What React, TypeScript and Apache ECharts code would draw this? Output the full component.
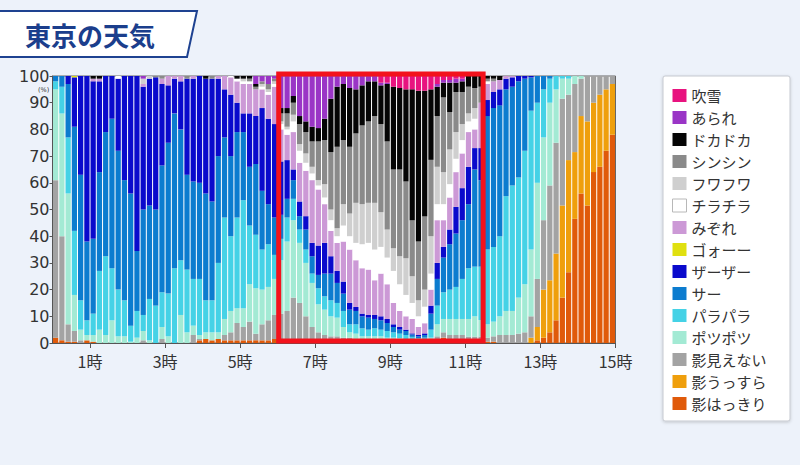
import React, { useEffect, useRef } from "react";
import * as echarts from "echarts";

// 10-minute slots from 0:00 to 14:50
const timeSlots: string[] = Array.from({ length: 90 }, (_, i) => `${Math.floor(i / 6)}:${String((i % 6) * 10).padStart(2, "0")}`);
const hourTicks = [1, 3, 5, 7, 9, 11, 13, 15];
const highlightHours = [6, 11.5];

// values in % per 10-minute slot (bars 0..89)
const kageHakkiri = [
  2, 1, 0.5, 0.5, 0, 1, 0.5, 0, 0, 0,
  0, 0, 0, 0, 0, 0, 0, 0, 0, 0,
  0, 0, 0, 1, 1.5, 1, 1.5, 1, 1, 1,
  1, 1, 1, 1, 1, 1.5, 1, 1, 1, 1,
  1, 1, 1, 1, 1, 1, 1, 1, 1, 1,
  1, 1, 1, 1, 1, 1, 1, 0.5, 0.5, 0.5,
  0.5, 1, 2, 1.5, 1.5, 1.5, 1, 1, 1, 0.5,
  0.5, 0, 0, 0, 0, 0, 0, 1, 2, 4,
  8.5, 17, 26.5, 46.5, 56, 51.5, 64, 66, 72, 78,
];
const kageUssura = [
  0, 0, 0, 0, 0, 0, 0, 0, 0, 0,
  0, 0, 0, 0, 0, 0, 0, 0, 0, 0,
  0, 0, 0, 0, 0, 0, 0, 0, 0, 0,
  0, 0, 0, 0, 0, 0, 0, 0, 0, 0,
  0, 0, 0, 0, 0, 0, 0, 0, 0, 0,
  0, 0, 0, 0, 0, 0, 0, 0, 0, 0,
  0, 0, 0, 0, 0, 0, 0, 0, 0, 0,
  0, 0, 0, 0, 0, 0, 2, 5, 18, 19.5,
  25, 34.5, 42, 25, 29, 31.5, 26, 27, 23, 19,
];
const kageMienai = [
  59, 39, 6.5, 4, 1, 0, 0, 0, 0, 0,
  0, 0, 0, 0, 1, 0, 0, 1.5, 0, 0,
  0, 0, 3, 0.5, 0, 0, 0, 2, 3, 6.5,
  5, 7, 2.5, 6, 7.5, 9, 10, 11, 16, 14,
  9, 5, 3, 2, 1.5, 1.5, 1, 1, 0.5, 0,
  0, 0, 0, 0, 0, 0, 0, 0, 0, 0,
  0.5, 1.5, 2, 1.5, 1.5, 1.5, 1.4, 1.4, 1.4, 1.5,
  2, 3, 3, 3, 3.5, 4, 8, 18, 26, 35.5,
  41.5, 40, 24.5, 25.5, 14, 17, 10, 7, 5, 3,
];
const potsupotsu = [
  34, 46, 49, 13.5, 4, 2, 2.5, 5, 3, 8.5,
  2.5, 2.5, 0.5, 2, 3.5, 1, 0, 4.5, 2.5, 0,
  10.5, 4, 3.5, 1.5, 2.5, 3, 2.5, 6, 8, 5.5,
  7, 14, 17, 13, 12.5, 13.5, 20, 26, 29, 22.5,
  20, 16.5, 10.5, 9.5, 7.5, 7, 4, 2, 2, 1.5,
  1.5, 1.5, 1.5, 1, 1, 0.8, 0.5, 0.7, 0.5, 0.7,
  1, 4.5, 5, 6, 6, 6, 6.6, 7.6, 6.2, 5,
  5.5, 7, 9, 9, 13.5, 18, 25, 36, 31, 31,
  20, 7.5, 6, 3, 1, 0, 0, 0, 0, 0,
];
const parapara = [
  3, 10, 21, 24, 11, 5.5, 8, 22, 29.5, 19.5,
  17.5, 13.5, 6, 10, 6, 15.5, 14, 13, 16, 28,
  20.5, 23.5, 17.5, 21, 12, 12, 26, 38, 28, 34,
  40.5, 22, 20, 15, 16, 9, 8, 9, 8, 5,
  5, 3.5, 6, 5, 6, 5.5, 6, 3, 3.5, 3,
  2.5, 3, 2.5, 2.5, 2, 1.7, 1.5, 1.1, 0.8, 0.8,
  3, 7, 10, 11, 12, 15, 19, 18.6, 20, 28,
  28, 30, 43, 47, 45, 50, 52, 30, 18, 9,
  5, 1, 1, 0, 0, 0, 0, 0, 0, 0,
];
const saa = [
  2, 4, 20, 39, 47, 29.5, 28, 37, 46.5, 56,
  52, 45, 49.5, 22.5, 39.5, 35, 36, 47.5, 56.5, 58,
  49, 35.5, 36.5, 36, 40, 37, 40, 30, 30, 32,
  25.5, 22, 26.5, 22, 15, 14, 9, 7, 7, 5,
  7.5, 6.5, 5, 8.5, 10, 7.5, 6.5, 5.5, 5, 4.5,
  4.5, 3.5, 3.5, 3, 2, 1.5, 1.5, 0.9, 0.7, 1,
  6, 10, 13, 17, 20, 22, 24, 36.4, 32.4, 50,
  52, 49, 40, 37, 36, 27, 12.5, 10, 5, 1,
  0, 0, 0, 0, 0, 0, 0, 0, 0, 0,
];
const zaazaa = [
  0, 0, 3, 18.5, 37, 62, 59, 34, 21, 16,
  27, 39, 44, 65.5, 46, 47.5, 49.5, 30.5, 21.5, 13,
  18, 36, 38.5, 40, 43, 46, 29, 18, 23, 11,
  7, 20, 18, 31, 32, 35, 20, 14.5, 4, 5.5,
  5, 5, 11, 11.5, 6.5, 4.5, 4.5, 2.5, 1.5, 1,
  1, 1.5, 1.5, 1.5, 1, 1, 0.5, 0.4, 0.5, 0.6,
  3, 6, 4, 5.5, 10, 12, 14, 8, 12, 6,
  6, 6, 4, 3.5, 2, 1, 0.5, 0, 0, 0,
  0, 0, 0, 0, 0, 0, 0, 0, 0, 0,
];
const goo = [
  0, 0, 0, 0.5, 0, 0, 0, 0, 0, 0,
  0, 0, 0, 0, 0, 0, 0, 0, 0, 0,
  0, 0, 0, 0, 0, 0, 0, 0, 0, 0,
  0, 0, 0, 0, 0, 0, 0, 0, 0, 0,
  0, 0, 0, 0, 0, 0, 0, 0, 0, 0,
  0, 0, 0, 0, 0, 0, 0, 0, 0, 0,
  0, 0, 0, 0, 0, 0, 0, 0, 0, 0,
  0, 0, 0, 0, 0, 0, 0, 0, 0, 0,
  0, 0, 0, 0, 0, 0, 0, 0, 0, 0,
];
const mizore = [
  0, 0, 0, 0, 0, 0, 1, 1, 0, 0,
  0, 0, 0, 0, 1, 0, 0, 2, 3.5, 1,
  2, 0, 1, 0, 0, 0, 1, 5, 6.5, 8,
  11, 11, 10, 7, 9, 14, 12, 9.5, 14, 14.5,
  17, 23.5, 21, 14.5, 9.5, 10.5, 15, 20, 17.5, 17,
  17, 13, 16, 13, 8, 6, 5, 5.4, 3, 3.8,
  6, 16, 10, 12, 13, 13, 13, 7, 17, 6,
  4, 3.5, 1, 0.5, 0, 0, 0, 0, 0, 0,
  0, 0, 0, 0, 0, 0, 0, 0, 0, 0,
];
const chirachira = [
  0, 0, 0, 0, 0, 0, 0, 0, 0, 0,
  1, 0, 0, 0, 0, 0, 0, 0, 0, 0,
  0, 0, 0, 0, 0, 0, 0, 0, 0.5, 1,
  1, 1, 0, 1, 1, 1, 2, 2, 4, 4.5,
  3, 2.5, 1.5, 2.5, 4, 2.5, 6, 5, 6.5, 9,
  10, 11.5, 10, 10, 12, 10, 8, 6, 4, 6.2,
  6, 6, 6, 5, 5, 5, 4, 4, 0, 1,
  0, 0, 0, 0, 0, 0, 0, 0, 0, 0,
  0, 0, 0, 0, 0, 0, 0, 0, 0, 0,
];
const fuwafuwa = [
  0, 0, 0, 0, 0, 0, 0, 0, 0, 0,
  0, 0, 0, 0, 2, 1, 0, 0, 0, 0,
  0, 0, 0, 0, 0, 0, 0, 0, 0, 0,
  1, 0, 0, 1, 1, 1, 1, 1, 2.5, 2.5,
  3.5, 2.5, 2, 5, 4, 3, 8, 8.5, 15, 15,
  15, 17.5, 13, 10.5, 8.5, 10.5, 13.75, 10, 6, 6.4,
  14, 14, 12, 13, 10, 6, 3, 4, 0, 0,
  0, 0, 0, 0, 0, 0, 0, 0, 0, 0,
  0, 0, 0, 0, 0, 0, 0, 0, 0, 0,
];
const shinshin = [
  0, 0, 0, 0, 0, 0, 0, 0, 0, 0,
  0, 0, 0, 0, 0, 0, 0.5, 1, 0, 0,
  0, 1, 0, 0, 0, 1, 0, 0, 0, 0,
  0, 1, 1, 1, 2, 1, 3, 5, 4.5, 7.5,
  8, 9.5, 14.5, 16.5, 21.5, 30.5, 24, 25, 26, 29.5,
  30.5, 32.5, 33, 33, 29.5, 32.5, 28.75, 21, 22, 27.4,
  28.6, 19, 28, 14, 15, 12, 10, 7.5, 6, 1,
  1, 0, 0, 0, 0, 0, 0, 0, 0, 0,
  0, 0, 0, 0, 0, 0, 0, 0, 0, 0,
];
const dokadoka = [
  0, 0, 0, 0, 0, 0, 1, 1, 0, 0,
  0, 0, 0, 0, 0, 0, 0, 0, 0, 0,
  0, 0, 0, 0, 1, 0, 0, 0, 0, 1,
  1, 1, 1, 0, 0, 0, 2, 2, 2.5, 3,
  4, 5.5, 5, 8, 20, 22.5, 21, 22, 16.5, 15,
  15, 13, 14.5, 21.5, 31, 30.5, 34.5, 49, 56.5, 47.1,
  26.4, 11, 5.5, 11, 3.5, 4, 4, 4.5, 4, 1,
  1, 1.5, 0, 0, 0, 0, 0, 0, 0, 0,
  0, 0, 0, 0, 0, 0, 0, 0, 0, 0,
];
const arare = [
  0, 0, 0, 0, 0, 0, 0, 0, 0, 0,
  0, 0, 0, 0, 1, 0, 0, 0, 0, 0,
  0, 0, 0, 0, 0, 0, 0, 0, 0, 0,
  0, 0, 3, 2, 3, 1, 12, 12, 7.5, 15,
  17, 19, 19.5, 16, 8.5, 4, 3, 4.5, 5, 3.5,
  2, 2, 1, 0.5, 0, 0, 0, 0, 0, 0,
  0, 1, 1, 1, 1.5, 1, 0, 0, 0, 0,
  0, 0, 0, 0, 0, 0, 0, 0, 0, 0,
  0, 0, 0, 0, 0, 0, 0, 0, 0, 0,
];
const fubuki = [
  0, 0, 0, 0, 0, 0, 0, 0, 0, 0,
  0, 0, 0, 0, 0, 0, 0, 0, 0, 0,
  0, 0, 0, 0, 0, 0, 0, 0, 0, 0,
  0, 0, 0, 0, 0, 0, 0, 0, 0, 0,
  0, 0, 0, 0, 0, 0, 0, 0, 0, 0,
  0, 0, 2.5, 2.5, 4, 4.5, 5, 5, 5.5, 5.5,
  5, 3, 1.5, 1.5, 1, 1, 0, 0, 0, 0,
  0, 0, 0, 0, 0, 0, 0, 0, 0, 0,
  0, 0, 0, 0, 0, 0, 0, 0, 0, 0,
];

// stacking order: bottom -> top
const seriesDefs = [
  { name: "影はっきり", color: "#e05a0a", data: kageHakkiri },
  { name: "影うっすら", color: "#ef9f0c", data: kageUssura },
  { name: "影見えない", color: "#a3a3a3", data: kageMienai },
  { name: "ポツポツ", color: "#a3ead4", data: potsupotsu },
  { name: "パラパラ", color: "#45d2e6", data: parapara },
  { name: "サー", color: "#0c7ccf", data: saa },
  { name: "ザーザー", color: "#0a0acc", data: zaazaa },
  { name: "ゴォーー", color: "#e0e010", data: goo },
  { name: "みぞれ", color: "#cc99d6", data: mizore },
  { name: "チラチラ", color: "#ffffff", data: chirachira },
  { name: "フワフワ", color: "#cfcfcf", data: fuwafuwa },
  { name: "シンシン", color: "#8a8a8a", data: shinshin },
  { name: "ドカドカ", color: "#050505", data: dokadoka },
  { name: "あられ", color: "#9a35c6", data: arare },
  { name: "吹雪", color: "#e8137f", data: fubuki },
];

const FONT = '"Noto Sans CJK JP", "Noto Sans", sans-serif';

export default function App() {
  const ref = useRef<HTMLDivElement>(null);
  useEffect(() => {
    if (!ref.current) return;
    const chart = echarts.init(ref.current, undefined, { renderer: "svg" });
    const legendNames = seriesDefs.map((s) => s.name).reverse();
    const option: any = {
      animation: false,
      backgroundColor: "#edf2fa",
      textStyle: { fontFamily: FONT },
      grid: {
        left: 52.5, top: 76, width: 563, height: 267,
        show: true, backgroundColor: "#ffffff", borderColor: "#666", borderWidth: 1,
      },
      legend: {
        orient: "vertical",
        left: 672, top: 88,
        padding: 0,
        itemWidth: 14, itemHeight: 13, itemGap: 7,
        icon: "rect",
        selectedMode: false,
        textStyle: { fontSize: 15, color: "#333", fontFamily: FONT },
        data: legendNames.map((n) =>
          n === "チラチラ"
            ? { name: n, itemStyle: { color: "#fff", borderColor: "#b8b8b8", borderWidth: 1 } }
            : { name: n }
        ),
      },
      xAxis: [
        {
          type: "category", data: timeSlots, show: false, gridIndex: 0,
        },
        {
          type: "value", min: 0, max: 15, gridIndex: 0, position: "bottom",
          axisLine: { show: true, lineStyle: { color: "#555", width: 1 } },
          axisTick: { show: true, customValues: hourTicks, length: 5, lineStyle: { color: "#555" } },
          axisLabel: {
            customValues: hourTicks, formatter: (v: number) => `${v}時`,
            fontSize: 16, color: "#333", margin: 10, fontFamily: FONT,
          },
          splitLine: { show: false },
        },
      ],
      yAxis: {
        type: "value", min: 0, max: 100, interval: 10,
        axisLine: { show: true, lineStyle: { color: "#555" } },
        axisTick: { show: true, length: 3, lineStyle: { color: "#555" } },
        axisLabel: {
          fontSize: 16, color: "#333", margin: 3,
          fontFamily: '"DejaVu Sans", sans-serif',
        },
        splitLine: { show: false },
      },
      series: seriesDefs.map((s) => ({
        name: s.name,
        type: "bar",
        stack: "weather",
        xAxisIndex: 0,
        yAxisIndex: 0,
        barCategoryGap: "16%",
        silent: true,
        itemStyle: { color: s.color },
        emphasis: { disabled: true },
        data: s.data,
      })),
    };
    chart.setOption(option);

    const x0 = chart.convertToPixel({ xAxisIndex: 1 }, highlightHours[0]) as number;
    const x1 = chart.convertToPixel({ xAxisIndex: 1 }, highlightHours[1]) as number;
    const yTop = chart.convertToPixel({ yAxisIndex: 0 }, 100) as number;
    const yBottom = chart.convertToPixel({ yAxisIndex: 0 }, 0) as number;

    chart.setOption({
      graphic: [
        {
          type: "polygon", z: 20,
          shape: { points: [[-4, 11], [197, 11], [187, 57], [-4, 57]] },
          style: { fill: "#ffffff", stroke: "#1e4291", lineWidth: 2 },
        },
        {
          type: "text", z: 21, x: 25, y: 34,
          style: {
            text: "東京の天気", fill: "#1b3e8c", font: `bold 26px ${FONT}`,
            verticalAlign: "middle", align: "left",
          },
        },
        {
          type: "rect", z: 1,
          shape: { x: 663, y: 76, width: 127, height: 345, r: 2 },
          style: {
            fill: "#ffffff", stroke: "#c5c9d0", lineWidth: 1,
            shadowBlur: 3, shadowColor: "rgba(0,0,0,0.18)", shadowOffsetY: 1,
          },
        },
        {
          type: "text", z: 20, x: 38, y: 86,
          style: {
            text: "(%)", fill: "#333", font: `6.5px "DejaVu Sans", sans-serif`,
            lineHeight: 7, verticalAlign: "top",
          },
        },
        {
          type: "rect", z: 30,
          shape: { x: x0 + 1, y: yTop - 2, width: x1 - x0 - 2, height: yBottom - yTop },
          style: { fill: "none", stroke: "#f3121c", lineWidth: 5 },
        },
      ],
    });
    return () => chart.dispose();
  }, []);
  return <div ref={ref} style={{ position: "fixed", left: 0, top: 0, width: 800, height: 465 }} />;
}
